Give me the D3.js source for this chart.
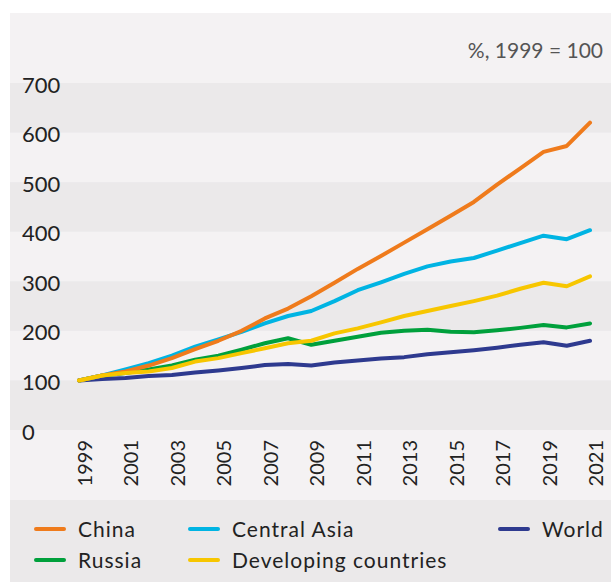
<!DOCTYPE html>
<html>
<head>
<meta charset="utf-8">
<script src="https://cdn.jsdelivr.net/npm/d3@7"></script>
<style>
  html, body { margin: 0; padding: 0; background: #fff; }
  svg { display: block; font-family: Lato, "Open Sans", sans-serif; }
</style>
</head>
<body>
<svg id="chart" width="611" height="582"></svg>
<script>
const years = d3.range(1999, 2022);
const yTicks = [0, 100, 200, 300, 400, 500, 600, 700];
const xTickYears = d3.range(1999, 2022, 2);

const china = [100, 110, 118, 130, 145, 163, 180, 200, 225, 245, 270, 297, 325, 351, 378, 405, 432, 460, 495, 528, 561, 573, 620];
const centralAsia = [100, 110, 122, 135, 150, 168, 183, 198, 215, 230, 240, 260, 282, 298, 315, 330, 340, 347, 362, 377, 392, 385, 403];
const russia = [100, 110, 115, 122, 130, 142, 150, 162, 175, 185, 172, 180, 188, 196, 200, 202, 198, 197, 201, 206, 212, 207, 215];
const developing = [100, 110, 115, 118, 125, 138, 145, 155, 165, 175, 180, 195, 205, 217, 230, 240, 250, 260, 271, 285, 297, 290, 310];
const world = [100, 103, 105, 109, 111, 116, 120, 125, 131, 133, 130, 136, 140, 144, 147, 153, 157, 161, 166, 172, 177, 170, 180];

const series = [
  { name: "World", values: world, color: "#2e3a8f" },
  { name: "Russia", values: russia, color: "#00a03c" },
  { name: "Central Asia", values: centralAsia, color: "#00b4e3" },
  { name: "China", values: china, color: "#ef7b1c" },
  { name: "Developing countries", values: developing, color: "#f7c600" }
];

const legendRows = [
  ["China", "Central Asia", "World"],
  ["Russia", "Developing countries"]
];

const svg = d3.select("#chart");
const W = 611;

// background panel
svg.append("rect").attr("x", 10).attr("y", 13).attr("width", W - 10).attr("height", 582 - 13).attr("fill", "#f4f2f3");

const x = d3.scaleLinear().domain([1999, 2021]).range([79, 590]);
const y = d3.scaleLinear().domain([0, 700]).range([430, 83]);

// alternating bands: 0-100, 200-300, 400-500, 600-700
svg.append("g").selectAll("rect")
  .data([0, 200, 400, 600]).join("rect")
  .attr("x", 10).attr("width", W - 10)
  .attr("y", d => y(d + 100)).attr("height", d => y(d) - y(d + 100))
  .attr("fill", "#ebe9ea");

// legend background
svg.append("rect").attr("x", 10).attr("y", 500).attr("width", W - 10).attr("height", 82).attr("fill", "#ebe9ea");

// y axis labels
svg.append("g").selectAll("text")
  .data(yTicks).join("text")
  .attr("x", 22).attr("y", d => y(d) + 9.5)
  .attr("font-size", 22).attr("fill", "#222")
  .text(d => d);

// x axis labels
svg.append("g").selectAll("text")
  .data(xTickYears).join("text")
  .attr("transform", d => `translate(${x(d) + 13},440) rotate(-90)`)
  .attr("text-anchor", "end")
  .attr("font-size", 20).attr("fill", "#222")
  .text(d => d);

// unit label
svg.append("text")
  .attr("x", 603).attr("y", 58)
  .attr("text-anchor", "end")
  .attr("font-size", 21).attr("fill", "#555")
  .text("%, 1999 = 100");

const line = d3.line().x((d, i) => x(years[i])).y(d => y(d));

svg.append("g").selectAll("path")
  .data(series).join("path")
  .attr("d", d => line(d.values))
  .attr("fill", "none")
  .attr("stroke", d => d.color)
  .attr("stroke-width", 4)
  .attr("stroke-linejoin", "round")
  .attr("stroke-linecap", "round");

// legend
const colX = [34, 188, 498];
const rowY = [529, 560];
const colorOf = name => series.find(s => s.name === name).color;
legendRows.forEach((row, r) => {
  row.forEach((name, c) => {
    const g = svg.append("g").attr("transform", `translate(${colX[c]},${rowY[r]})`);
    g.append("line").attr("x1", 2).attr("x2", 30).attr("y1", 0).attr("y2", 0)
      .attr("stroke", colorOf(name)).attr("stroke-width", 4).attr("stroke-linecap", "round");
    g.append("text").attr("x", 44).attr("y", 7.5)
      .attr("font-size", 21).attr("letter-spacing", 1).attr("fill", "#222").text(name);
  });
});
</script>
</body>
</html>
